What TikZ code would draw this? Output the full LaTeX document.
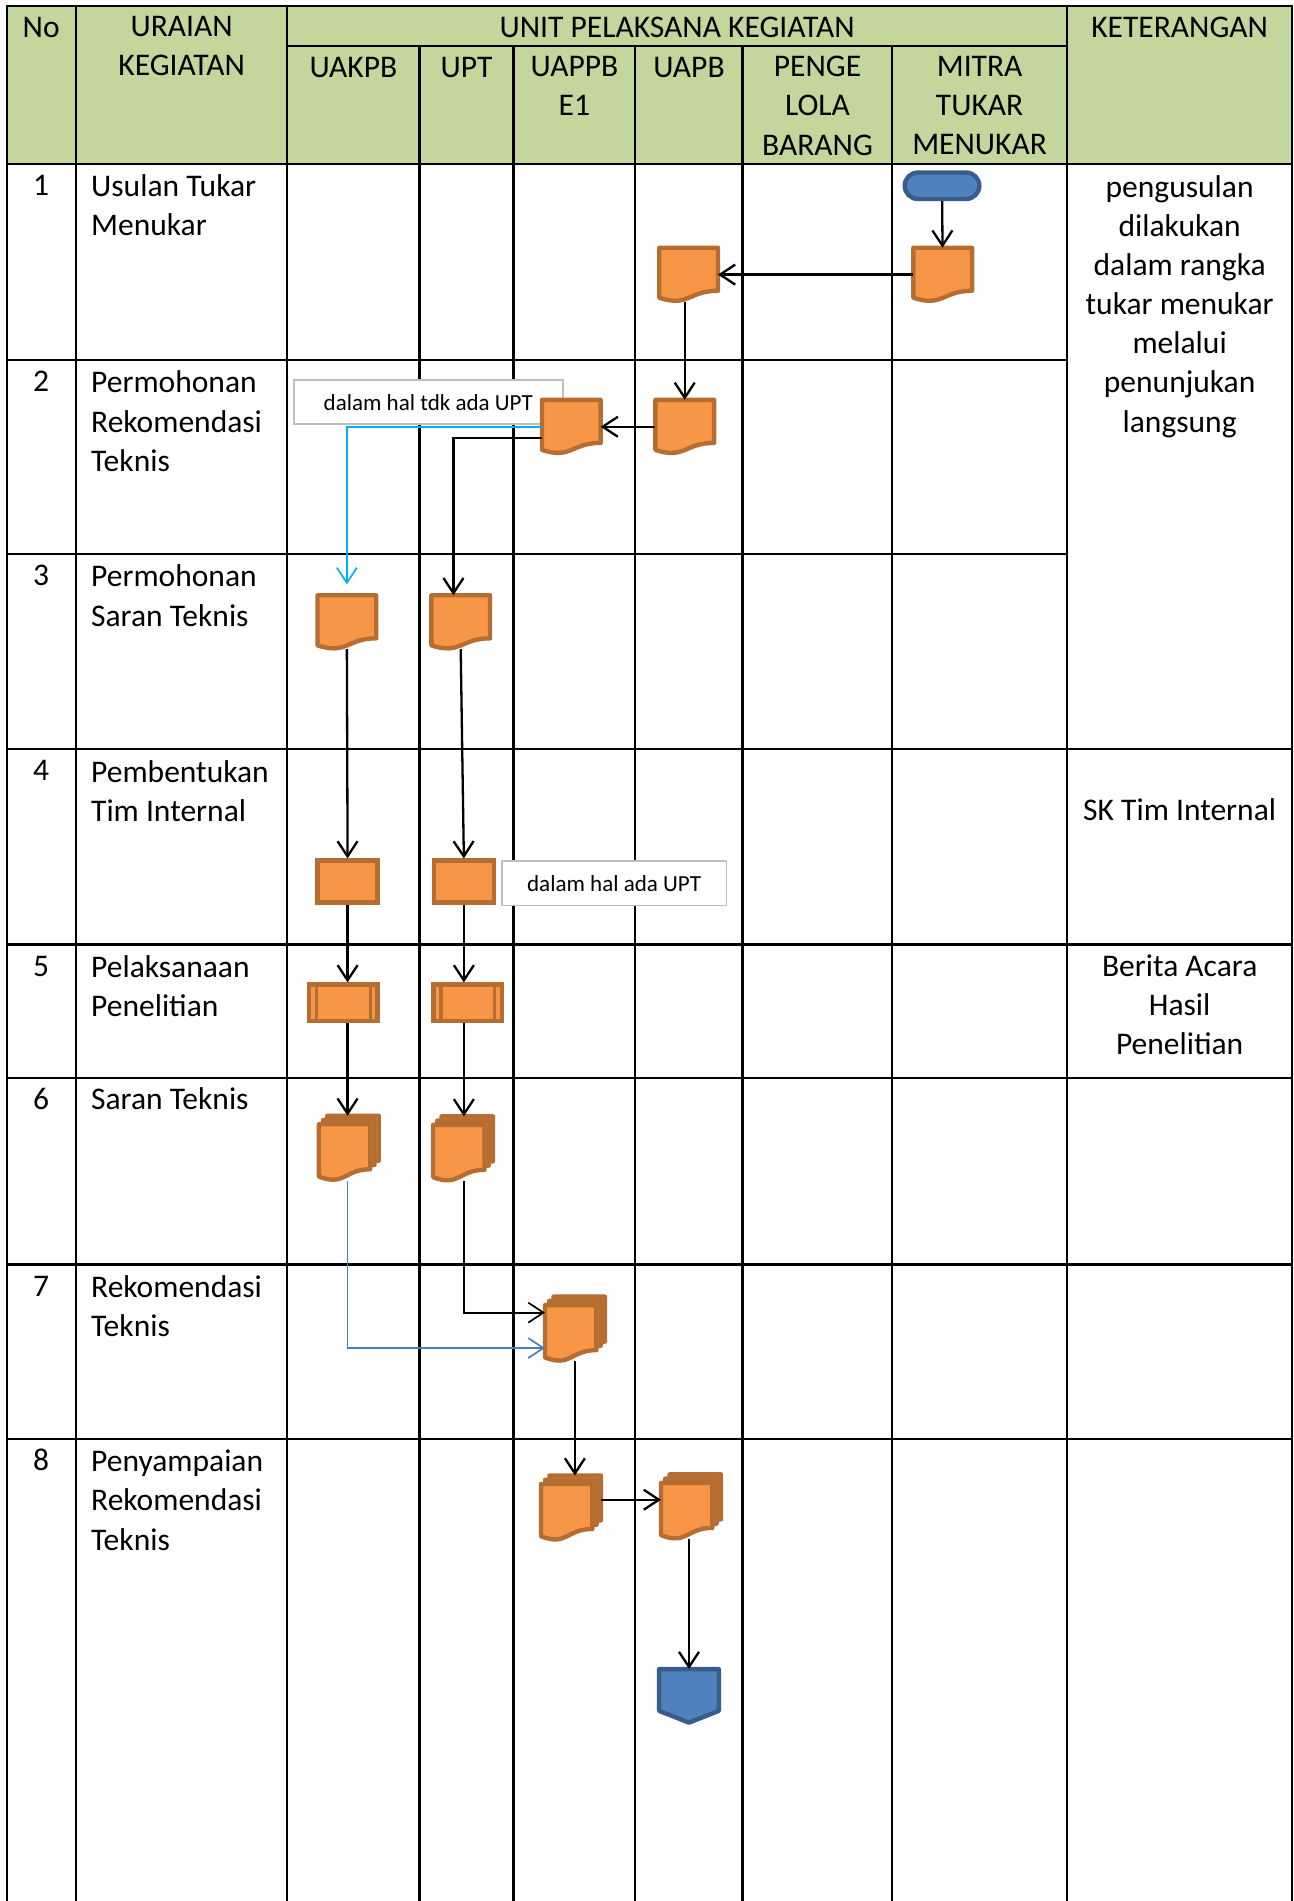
\documentclass[tikz,border=0pt]{standalone}
\usepackage{fontspec}
\setmainfont{Carlito}
\usetikzlibrary{arrows.meta,calc}
\definecolor{hdrgreen}{HTML}{C3D69B}
\definecolor{docfill}{HTML}{F79646}
\definecolor{docedge}{HTML}{B66D31}
\definecolor{termfill}{HTML}{4F81BD}
\definecolor{termedge}{HTML}{385D8A}
\definecolor{cyanline}{HTML}{00B0F0}
\definecolor{blueline}{HTML}{4A7EBB}
\definecolor{notegray}{HTML}{BFBFBF}

% document sheet inside node #1, insets left/right/top/bottom
\newcommand{\docsheet}[5]{%
  \draw[sheet] let \p1=([shift={(#2,-#4)}]#1.north west),
                   \p2=([shift={(-#3,#5)}]#1.south east) in
    (\x1,\y1) -- (\x2,\y1) -- (\x2,{\y1+0.8*(\y2-\y1)})
    .. controls ({0.5*(\x1+\x2)},{\y1+0.8*(\y2-\y1)})
            and ({0.5*(\x1+\x2)},{\y1+1.11*(\y2-\y1)}) ..
    (\x1,{\y1+0.93*(\y2-\y1)}) -- cycle;}

\begin{document}
\begin{tikzpicture}[
  x=1pt, y=-1pt,
  font=\fontsize{26pt}{32.3pt}\selectfont,
  >={Straight Barb[length=12.5pt,width=16.5pt]},
  grid/.style={line width=1.8pt,line cap=rect},
  line/.style={->,line width=1.9pt},
  thinline/.style={->,line width=1.4pt},
  txt/.style={inner sep=0pt,execute at begin node=\strut},
  sheet/.style={draw=docedge,fill=docfill,line width=3.6pt,line join=round},
  docu/.style={minimum width=48pt,minimum height=44pt,inner sep=0pt,
               append after command={\pgfextra{\docsheet{\tikzlastnode}{0pt}{0pt}{0pt}{0pt}}}},
  multidocu/.style={minimum width=49pt,minimum height=53pt,inner sep=0pt,
               append after command={\pgfextra{%
                 \docsheet{\tikzlastnode}{7pt}{0pt}{0pt}{7pt}%
                 \docsheet{\tikzlastnode}{3.5pt}{3.5pt}{3.5pt}{3.5pt}%
                 \docsheet{\tikzlastnode}{0pt}{7pt}{7pt}{0pt}}}},
  proc/.style={draw=docedge,fill=docfill,line width=3.6pt,inner sep=0pt,
               minimum width=49.5pt,minimum height=34.7pt},
  predef/.style={proc,minimum width=56.4pt,minimum height=29.8pt,
               path picture={\draw[docedge,line width=3pt]
                 ([xshift=6pt]path picture bounding box.north west)
                 -- ([xshift=6pt]path picture bounding box.south west)
                 ([xshift=-6pt]path picture bounding box.north east)
                 -- ([xshift=-6pt]path picture bounding box.south east);}},
  term/.style={draw=termedge,fill=termfill,line width=3.6pt,rounded corners=10.9pt,
               minimum width=61.6pt,minimum height=21.8pt,inner sep=0pt},
  termline/.style={draw=termedge,fill=termfill,line width=3.6pt,line join=round},
  offpage/.style={minimum width=48.8pt,minimum height=43.8pt,inner sep=0pt,
               append after command={\pgfextra{\draw[termline]
                 (\tikzlastnode.north west) -- (\tikzlastnode.north east)
                 -- ($(\tikzlastnode.north east)!0.78!(\tikzlastnode.south east)$)
                 -- (\tikzlastnode.south)
                 -- ($(\tikzlastnode.north west)!0.78!(\tikzlastnode.south west)$)
                 -- cycle;}}},
  note/.style={draw=notegray,fill=white,line width=1.6pt,inner sep=0pt,
               minimum width=222pt,minimum height=36.5pt,
               font=\fontsize{19pt}{23pt}\selectfont}
]
\path[use as bounding box,fill=white] (0,0) rectangle (1067,1568);

% table
\fill[hdrgreen] (5.5,5) rectangle (1066,135);
\draw[grid] (5.5,5) -- (1066,5) (237,38) -- (880,38) (5.5,135) -- (1066,135);
\foreach \y in {297,457} \draw[grid] (5.5,\y) -- (880,\y);
\foreach \y in {618,779,889,1043,1187} \draw[grid] (5.5,\y) -- (1066,\y);
\foreach \x in {5.5,62.5,237,880,1066} \draw[grid] (\x,5) -- (\x,1568);
\foreach \x in {346,423.5,524,612.5,736} \draw[grid] (\x,38) -- (\x,1568);

% header
\node[txt,anchor=north] (hno) at (34,7.8) {No};
\node[txt,anchor=north,align=center] (hdesc) at (149.8,13.3) {URAIAN\\KEGIATAN};
\node[txt,anchor=north] (hunit) at (558.5,7.8) {UNIT PELAKSANA KEGIATAN};
\node[txt,anchor=north] (hket) at (973,7.8) {KETERANGAN};
\node[txt,anchor=north] (huakpb) at (291.5,40.8) {UAKPB};
\node[txt,anchor=north] (hupt) at (384.8,40.8) {UPT};
\node[txt,anchor=north,align=center] (huappb) at (473.8,46.3) {UAPPB\\E1};
\node[txt,anchor=north] (huapb) at (568.3,40.8) {UAPB};
\node[txt,anchor=north,align=center] (hpenge) at (674.3,46.3) {PENGE\\LOLA\\BARANG};
\node[txt,anchor=north,align=center] (hmitra) at (808,46.3) {MITRA\\TUKAR\\MENUKAR};

% rows
\node[txt,anchor=north] (no1) at (34,138.3) {1};
\node[txt,anchor=north] (no2) at (34,300.3) {2};
\node[txt,anchor=north] (no3) at (34,460.3) {3};
\node[txt,anchor=north] (no4) at (34,621.3) {4};
\node[txt,anchor=north] (no5) at (34,782.3) {5};
\node[txt,anchor=north] (no6) at (34,892.3) {6};
\node[txt,anchor=north] (no7) at (34,1046.3) {7};
\node[txt,anchor=north] (no8) at (34,1190.3) {8};
\node[txt,anchor=north west,align=left] (act1) at (75,143.8) {Usulan Tukar\\Menukar};
\node[txt,anchor=north west,align=left] (act2) at (75,305.8) {Permohonan\\Rekomendasi\\Teknis};
\node[txt,anchor=north west,align=left] (act3) at (75,465.8) {Permohonan\\Saran Teknis};
\node[txt,anchor=north west,align=left] (act4) at (75,626.8) {Pembentukan\\Tim Internal};
\node[txt,anchor=north west,align=left] (act5) at (75,787.8) {Pelaksanaan\\Penelitian};
\node[txt,anchor=north west,align=left] (act6) at (75,892.3) {Saran Teknis};
\node[txt,anchor=north west,align=left] (act7) at (75,1051.8) {Rekomendasi\\Teknis};
\node[txt,anchor=north west,align=left] (act8) at (75,1195.8) {Penyampaian\\Rekomendasi\\Teknis};
\node[txt,anchor=north,align=center] (ket1) at (973,144.3) {pengusulan\\dilakukan\\dalam rangka\\tukar menukar\\melalui\\penunjukan\\langsung};
\node[txt,anchor=north] (ket4) at (973,653.8) {SK Tim Internal};
\node[txt,anchor=north,align=center] (ket5) at (973,787.3) {Berita Acara\\Hasil\\Penelitian};

% notes
\node[note] (notenoupt) at (353.2,331.7) {dalam hal tdk ada UPT};
\node[note,minimum width=185.5pt] (noteupt) at (506.5,728.6) {dalam hal ada UPT};

% flow shapes
\node[term] (start) at (777,153.2) {};
\node[docu] (mitradoc) at (777.6,226.5) {};
\node[docu] (uapbdoc1) at (568,226.5) {};
\node[docu] (uapbdoc2) at (564.8,352) {};
\node[docu] (uappbdoc2) at (471.2,352) {};
\node[docu] (uakpbdoc3) at (286.1,513.2) {};
\node[docu] (uptdoc3) at (380,513.2) {};
\node[proc] (uakpbproc) at (286.7,727.2) {};
\node[proc] (uptproc) at (382.6,727.2) {};
\node[predef] (uakpbpre) at (283.3,827) {};
\node[predef] (uptpre) at (385.7,827) {};
\node[multidocu] (uakpbmulti) at (287.7,947) {};
\node[multidocu] (uptmulti) at (381.9,947.5) {};
\node[multidocu] (uappbmulti7) at (474.2,1096.2) {};
\node[multidocu] (uappbmulti8) at (470.9,1243.7) {};
\node[multidocu] (uapbmulti8) at (569.9,1242.8) {};
\node[offpage] (offpage) at (568.3,1398.8) {};
\coordinate (cyanend) at ([yshift=9pt]uakpbdoc3.north);
\coordinate (uptin) at ([xshift=-6pt]uptdoc3.north);

% connectors
\draw[line] (start) -- (mitradoc);
\draw[line] (mitradoc.west) -- (uapbdoc1.east);
\draw[line] (uapbdoc1.south -| uapbdoc2.north) -- (uapbdoc2.north);
\draw[line] (uapbdoc2.west) -- (uappbdoc2.east);
\draw[thinline,draw=cyanline] (uappbdoc2.west) -| (cyanend);
\draw[line] ([yshift=-9pt]uappbdoc2.west) -| (uptin);
\draw[line] (uakpbdoc3.south) -- (uakpbproc.north);
\draw[line] (uptdoc3.south) -- (uptproc.north);
\draw[line] (uakpbproc.south) -- (uakpbproc.south |- uakpbpre.north);
\draw[line] (uptproc.south) -- (uptproc.south |- uptpre.north);
\draw[line] (uakpbproc.south |- uakpbpre.south) -- (uakpbproc.south |- uakpbmulti.north);
\draw[line] (uptproc.south |- uptpre.south) -- (uptproc.south |- uptmulti.north);
\draw[thinline,draw=blueline] (uakpbproc.south |- uakpbmulti.south)
  |- ([yshift=-15.7pt]uappbmulti7.west);
\draw[thinline] (uptproc.south |- uptmulti.south) |- ([yshift=13.5pt]uappbmulti7.west);
\draw[line] (uappbmulti7.south) -- (uappbmulti7.south |- uappbmulti8.north);
\draw[line] ([yshift=6.7pt]uappbmulti8.east) -- ([yshift=6.7pt]uappbmulti8.east -| uapbmulti8.west);
\draw[line] (offpage.north |- uapbmulti8.south) -- (offpage.north);
\end{tikzpicture}
\end{document}
